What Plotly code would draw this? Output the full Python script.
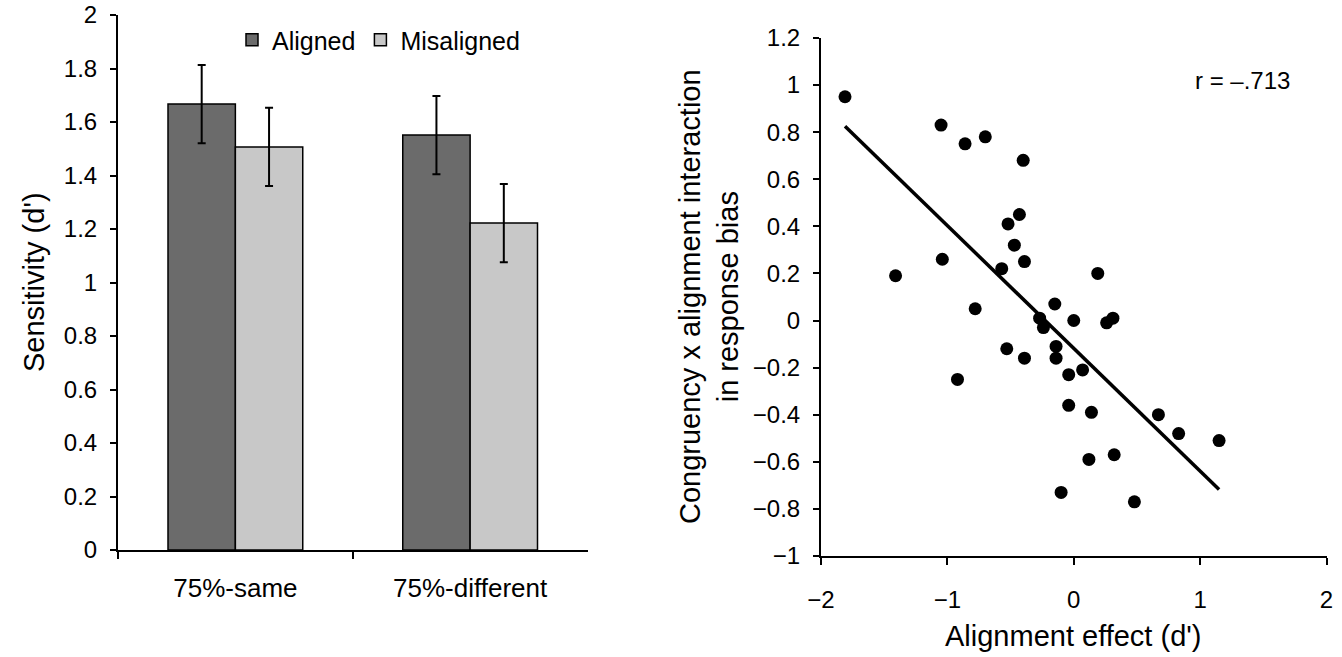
import numpy as np
import plotly.graph_objects as go

# ---- Panel A: sensitivity by condition ----
conditions = ["75%-same", "75%-different"]
aligned_dprime = [1.667, 1.551]
misaligned_dprime = [1.507, 1.222]
aligned_err = [0.146, 0.146]
misaligned_err = [0.146, 0.146]

# ---- Panel B: per-participant scores ----
alignment_effect = [
    -1.81, -1.05, -0.86, -0.70, -0.40, -0.43, -0.52, -0.47, -0.39, -0.57,
    -1.04, -1.41, 0.19, -0.78, -0.15, -0.27, 0.00, 0.31, 0.26, -0.24,
    -0.14, -0.14, -0.53, -0.39, -0.92, -0.04, 0.07, -0.04, 0.14, 0.67,
    0.83, 1.15, 0.32, 0.12, -0.10, 0.48,
]
bias_interaction = [
    0.95, 0.83, 0.75, 0.78, 0.68, 0.45, 0.41, 0.32, 0.25, 0.22,
    0.26, 0.19, 0.20, 0.05, 0.07, 0.01, 0.00, 0.01, -0.01, -0.03,
    -0.11, -0.16, -0.12, -0.16, -0.25, -0.23, -0.21, -0.36, -0.39, -0.40,
    -0.48, -0.51, -0.57, -0.59, -0.73, -0.77,
]
r_label = "r = \u2013.713"

W, H = 1342, 657
FONT = "Arial, Liberation Sans, Helvetica, sans-serif"


def px_x(p):
    return p / W


def px_y(p):
    return 1 - p / H


fig = go.Figure()

fig.add_trace(go.Bar(
    x=conditions, y=aligned_dprime, name="Aligned",
    marker=dict(color="#6b6b6b", line=dict(color="black", width=1.5)),
    error_y=dict(type="data", array=aligned_err, color="black", thickness=2, width=4),
    xaxis="x", yaxis="y",
))
fig.add_trace(go.Bar(
    x=conditions, y=misaligned_dprime, name="Misaligned",
    marker=dict(color="#c8c8c8", line=dict(color="black", width=1.5)),
    error_y=dict(type="data", array=misaligned_err, color="black", thickness=2, width=4),
    xaxis="x", yaxis="y",
))

# scatter + least-squares fit line
xs = np.array(alignment_effect)
ys = np.array(bias_interaction)
slope, intercept = np.polyfit(xs, ys, 1)
fit_x = np.array([xs.min(), xs.max()])
fit_y = slope * fit_x + intercept

fig.add_trace(go.Scatter(
    x=fit_x, y=fit_y, mode="lines", line=dict(color="black", width=3.5),
    showlegend=False, xaxis="x2", yaxis="y2",
))
fig.add_trace(go.Scatter(
    x=xs, y=ys, mode="markers", marker=dict(color="black", size=13),
    showlegend=False, xaxis="x2", yaxis="y2",
))

axis_common = dict(
    showline=True, linecolor="black", linewidth=2, showgrid=False, zeroline=False,
    ticks="outside", tickcolor="black", tickwidth=2, ticklen=7, automargin=False,
    tickfont=dict(family=FONT, size=24, color="black"),
)

fig.update_layout(
    template="none",
    width=W, height=H, autosize=False,
    margin=dict(l=0, r=0, t=0, b=0),
    paper_bgcolor="white", plot_bgcolor="white",
    font=dict(family=FONT, color="black"),
    barmode="group", bargap=0.426, bargroupgap=0,
    xaxis=dict(
        axis_common, domain=[px_x(118), px_x(587.5)], anchor="y",
        type="category", range=[-0.5, 1.5], tickson="boundaries",
        tickfont=dict(family=FONT, size=26, color="black"), ticklabelstandoff=14,
    ),
    yaxis=dict(
        axis_common, domain=[px_y(550), px_y(15)], anchor="x",
        range=[0, 2], dtick=0.2, ticklen=6, ticklabelstandoff=8,
    ),
    xaxis2=dict(
        axis_common, domain=[px_x(821), px_x(1326.5)], anchor="y2",
        range=[-2, 2], dtick=1, ticklabelstandoff=14,
    ),
    yaxis2=dict(
        axis_common, domain=[px_y(556), px_y(37.9)], anchor="x2",
        range=[-1, 1.2], dtick=0.2, ticklen=6, ticklabelstandoff=8,
    ),
    legend=dict(
        orientation="h", x=px_x(232), xanchor="left", y=px_y(40), yanchor="middle",
        font=dict(family=FONT, size=25, color="black"), bgcolor="rgba(0,0,0,0)",
        itemwidth=30, tracegroupgap=0,
    ),
    annotations=[
        dict(text="Sensitivity (d')", x=px_x(34), y=px_y(282), xref="paper", yref="paper",
             xanchor="center", yanchor="middle",
             textangle=-90, showarrow=False, font=dict(family=FONT, size=29, color="black")),
        dict(text="Congruency x alignment interaction<br>in response bias",
             x=px_x(709), y=px_y(297), xref="paper", yref="paper",
             xanchor="center", yanchor="middle",
             textangle=-90, showarrow=False, font=dict(family=FONT, size=29, color="black")),
        dict(text="Alignment effect (d')", x=px_x(1073), y=px_y(636), xref="paper", yref="paper",
             xanchor="center", yanchor="middle",
             showarrow=False, font=dict(family=FONT, size=29, color="black")),
        dict(text=r_label, x=px_x(1242), y=px_y(80), xref="paper", yref="paper",
             xanchor="center", yanchor="middle",
             showarrow=False, font=dict(family=FONT, size=24, color="black")),
    ],
)

fig.write_html("out.html")
